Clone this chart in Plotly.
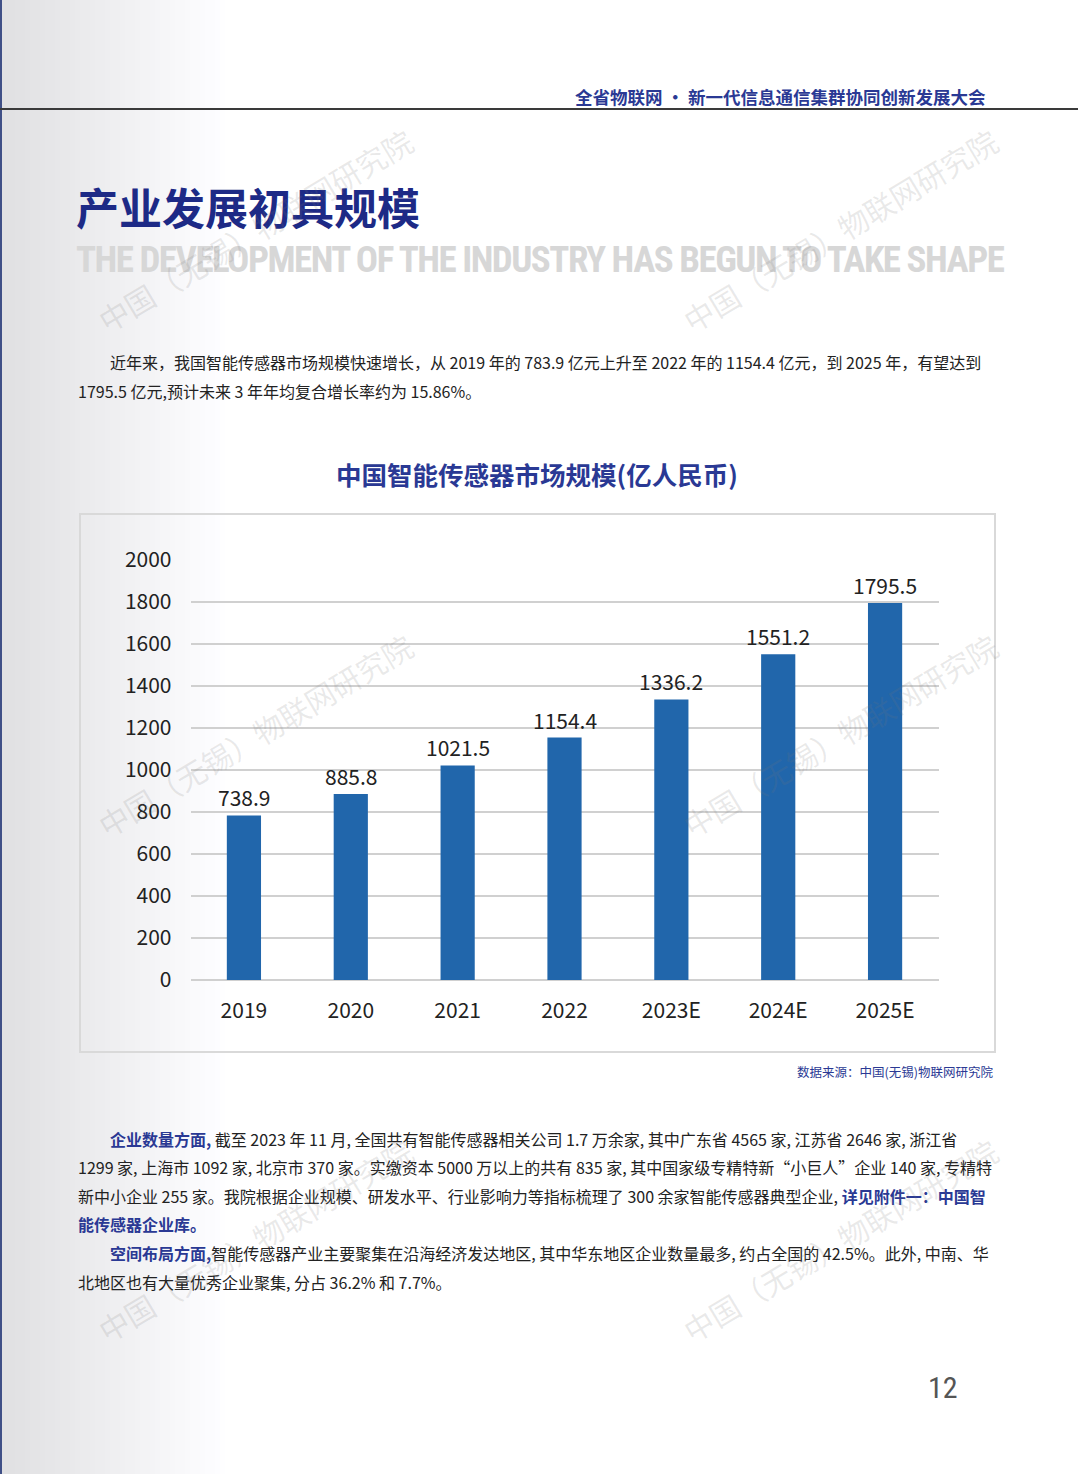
import plotly.graph_objects as go

# chart data
years = ['2019', '2020', '2021', '2022', '2023E', '2024E', '2025E']
market_size = [783.9, 885.8, 1021.5, 1154.4, 1336.2, 1551.2, 1795.5]
# labels as printed on the page (first one differs from bar height)
bar_labels = ['738.9', '885.8', '1021.5', '1154.4', '1336.2', '1551.2', '1795.5']
y_ticks = [0, 200, 400, 600, 800, 1000, 1200, 1400, 1600, 1800, 2000]

# page texts
header = '全省物联网 · 新一代信息通信集群协同创新发展大会'
page_title = '产业发展初具规模'
page_subtitle = 'THE DEVELOPMENT OF THE INDUSTRY HAS BEGUN TO TAKE SHAPE'
chart_title = '中国智能传感器市场规模(亿人民币)'
source_note = '数据来源：中国(无锡)物联网研究院'
watermark = '中国（无锡）物联网研究院'
page_no = '12'

BLUE = '#2a3994'
NAVY = '#1d2a86'
TEXT = '#222222'
CJK = 'Noto Sans CJK SC'
NARROW = 'Roboto Condensed, Open Sans Condensed, Liberation Sans Narrow, Arial Narrow, Open Sans, sans-serif'

intro_lines = [
    '近年来，我国智能传感器市场规模快速增长，从 2019 年的 783.9 亿元上升至 2022 年的 1154.4 亿元，到 2025 年，有望达到',
    '1795.5 亿元,预计未来 3 年年均复合增长率约为 15.86%。',
]
hl = lambda s: f"<b><span style='color:{BLUE}'>{s}</span></b>"
body_lines = [
    hl('企业数量方面,') + ' 截至 2023 年 11 月, 全国共有智能传感器相关公司 1.7 万余家, 其中广东省 4565 家, 江苏省 2646 家, 浙江省',
    '1299 家, 上海市 1092 家, 北京市 370 家。实缴资本 5000 万以上的共有 835 家, 其中国家级专精特新“小巨人”企业 140 家, 专精特',
    '新中小企业 255 家。我院根据企业规模、研发水平、行业影响力等指标梳理了 300 余家智能传感器典型企业, ' + hl('详见附件一：中国智'),
    hl('能传感器企业库。'),
    hl('空间布局方面,') + '智能传感器产业主要聚集在沿海经济发达地区, 其中华东地区企业数量最多, 约占全国的 42.5%。此外, 中南、华',
    '北地区也有大量优秀企业聚集, 分占 36.2% 和 7.7%。',
]

W, H = 1080, 1474
px = lambda x: x / W
py = lambda y: 1 - y / H

fig = go.Figure()
fig.add_trace(go.Bar(
    x=years, y=market_size,
    marker=dict(color='#2166ab', line=dict(width=0)),
    width=0.32,
    hoverinfo='x+y'))

shapes = []
# grey gradient on the left edge of the page
n = 46
for i in range(n):
    t = i / (n - 1)
    c = int(224 + (255 - 224) * t)
    shapes.append(dict(type='rect', xref='paper', yref='paper',
                       x0=px(i * 5), x1=px(i * 5 + 5.5), y0=0, y1=1,
                       fillcolor=f'rgb({c},{c},{min(255, c + 2)})',
                       line=dict(width=0), layer='below'))
shapes += [
    dict(type='line', xref='paper', yref='paper', x0=px(1), x1=px(1), y0=0, y1=1,
         line=dict(color='#3f4f86', width=2)),
    dict(type='line', xref='paper', yref='paper', x0=0, x1=px(1078), y0=py(109), y1=py(109),
         line=dict(color='#3a3a3a', width=2)),
    dict(type='rect', xref='paper', yref='paper', x0=px(80), x1=px(995), y0=py(1052), y1=py(514),
         line=dict(color='#d9d9d9', width=2), layer='below'),
]

annotations = []
# value labels above the bars (category index on the x axis)
for i, (v, lab) in enumerate(zip(market_size, bar_labels)):
    annotations.append(dict(x=i, y=v, xref='x', yref='y', text=lab, showarrow=False,
                            yanchor='middle', yshift=18,
                            font=dict(family=CJK, size=21, color=TEXT)))


def page_text(x, y, text, size, color, xanchor='left', family=CJK, **kw):
    annotations.append(dict(x=px(x), y=py(y), xref='paper', yref='paper', text=text,
                            showarrow=False, xanchor=xanchor, yanchor='middle',
                            font=dict(family=family, size=size, color=color), **kw))


page_text(988, 97, f'<b>{header}</b>', 17.5, BLUE, xanchor='right')
page_text(74, 206, f'<b>{page_title}</b>', 43, NAVY)
page_text(74, 259, f"<span style='letter-spacing:-1.5px'><b>{page_subtitle}</b></span>", 37,
          '#d7d7d7', family=NARROW)
page_text(108, 362, intro_lines[0], 16, TEXT)
page_text(76, 391, intro_lines[1], 16, TEXT)
page_text(537, 474, f'<b>{chart_title}</b>', 25.5, BLUE, xanchor='center')
page_text(995, 1071, source_note, 12.5, BLUE, xanchor='right')
body_y = [1139, 1167, 1196, 1224, 1253, 1282]
body_x = [108, 76, 76, 76, 108, 76]
for x, y, line in zip(body_x, body_y, body_lines):
    page_text(x, y, line, 16, TEXT)
page_text(943, 1387, page_no, 30, '#555555', xanchor='center', family=NARROW)

# faint diagonal watermarks
for wx in [255, 840]:
    for wy in [230, 735, 1240]:
        page_text(wx, wy, watermark, 30, 'rgba(120,120,120,0.16)', xanchor='center',
                  textangle=-31)

fig.update_layout(
    width=W, height=H,
    margin=dict(l=0, r=0, t=0, b=0, autoexpand=False),
    paper_bgcolor='white',
    plot_bgcolor='rgba(0,0,0,0)',
    showlegend=False,
    shapes=shapes,
    annotations=annotations,
    xaxis=dict(type='category', domain=[px(190.5), px(938.5)], range=[-0.5, 6.5],
               showgrid=False, showline=False, ticks='', ticklabelstandoff=16,
               automargin=False, tickfont=dict(family=CJK, size=21, color=TEXT),
               fixedrange=True),
    yaxis=dict(domain=[py(980), py(560)], range=[0, 2000], tickvals=y_ticks,
               showgrid=True, gridcolor='#d0d0d0', gridwidth=2,
               zeroline=True, zerolinecolor='#d0d0d0', zerolinewidth=2,
               showline=False, ticks='', ticklabelstandoff=18, automargin=False,
               tickfont=dict(family=CJK, size=21, color=TEXT), fixedrange=True),
)

fig.write_html('out.html', config={'displayModeBar': False},
               post_script="document.body.style.margin='0';")
